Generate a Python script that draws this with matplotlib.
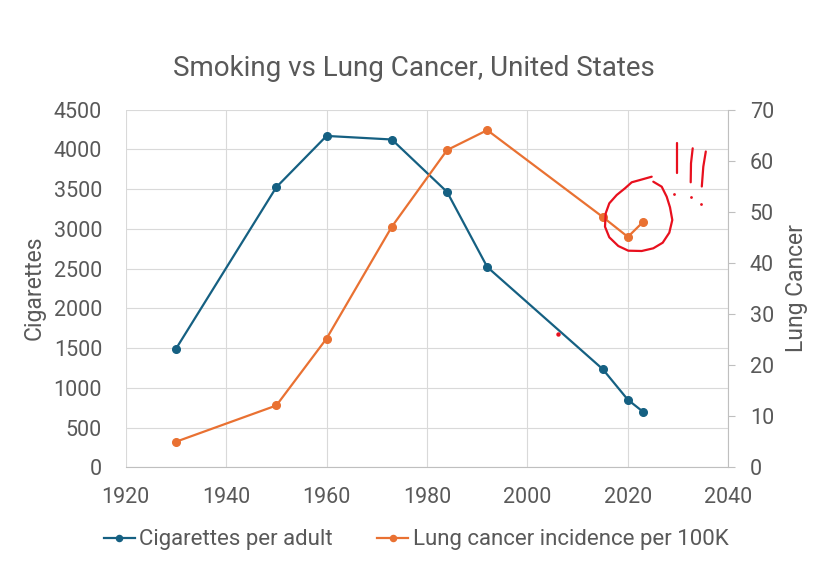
import matplotlib
matplotlib.use('Agg')
import matplotlib.pyplot as plt
from matplotlib.lines import Line2D

plt.rcParams['font.family'] = ['Roboto', 'DejaVu Sans']

# data
years_cig = [1930, 1950, 1960, 1973, 1984, 1992, 2015, 2020, 2023]
cigarettes = [1490, 3525, 4170, 4125, 3465, 2520, 1235, 850, 700]
years_lung = [1930, 1950, 1960, 1973, 1984, 1992, 2015, 2020, 2023]
lung_cancer = [5.0, 12.1, 25.2, 47.1, 62.1, 66.0, 49.0, 45.1, 48.0]

x_ticks = [1920, 1940, 1960, 1980, 2000, 2020, 2040]
left_ticks = [0, 500, 1000, 1500, 2000, 2500, 3000, 3500, 4000, 4500]
right_ticks = [0, 10, 20, 30, 40, 50, 60, 70]

# hand drawn red marks (image pixels)
circle_px = [(651.7, 176.7), (640, 180), (631.7, 182.3), (625, 188.3), (616.7, 195),
             (609.3, 203.3), (605.7, 213.3), (605, 226.7), (609.3, 237.3), (618.3, 246),
             (628.3, 250.7), (641.7, 251), (653.3, 248.3), (662.7, 242.7), (669.3, 232.7),
             (672.3, 220), (670, 207.3), (666.7, 196.7), (661.7, 186.7), (653.3, 181.7)]
strokes_px = [[(676.7, 142.5), (676.7, 172.7)],
              [(692.7, 148.3), (691, 163.3), (690.7, 182.3)],
              [(705.8, 151.5), (703.3, 166.7), (701.8, 186.5)]]
dots_px = [(674.3, 194), (691, 196.7), (700.7, 203.7)]
dot_line_px = [(558, 334)]

W, H = 830, 577
blue = '#156082'
orange = '#E97132'
grid_c = '#D9D9D9'
axis_c = '#BFBFBF'
text_c = '#595959'
red = '#E8101E'

fig = plt.figure(figsize=(W / 100, H / 100), dpi=100)
ax = fig.add_axes([125.7 / W, 1 - 467.3 / H, (728.3 - 125.7) / W, (467.3 - 109.7) / H])
ax2 = ax.twinx()

ax.plot(years_cig, cigarettes, color=blue, lw=1.6, marker='o', ms=5.5,
        label='Cigarettes per adult', zorder=3)
ax2.plot(years_lung, lung_cancer, color=orange, lw=1.6, marker='o', ms=5.5,
         label='Lung cancer incidence per 100K', zorder=3)

ax.set_xlim(1920, 2040)
ax.set_ylim(0, 4500)
ax2.set_ylim(0, 70)
ax.set_xticks(x_ticks)
ax.set_yticks(left_ticks)
ax2.set_yticks(right_ticks)

ax.grid(True, color=grid_c, lw=0.8)
ax.set_axisbelow(True)
for s in ['top', 'left', 'right']:
    ax.spines[s].set_visible(False)
ax.spines['bottom'].set_color(axis_c)
for s in ['top', 'left', 'bottom']:
    ax2.spines[s].set_visible(False)
ax2.spines['right'].set_color(axis_c)

ax.tick_params(axis='x', length=0, pad=14, labelsize=15.5, labelcolor=text_c)
ax.tick_params(axis='y', length=0, pad=17, labelsize=15.5, labelcolor=text_c)
ax2.tick_params(axis='y', length=5, width=0.8, color=axis_c, pad=10.5,
                labelsize=15.5, labelcolor=text_c)

fig.text(414 / W, 1 - 68 / H, 'Smoking vs Lung Cancer, United States',
         ha='center', va='center', fontsize=20, color=text_c)
fig.text(34 / W, 1 - 288 / H, 'Cigarettes', rotation=90, ha='center', va='center',
         fontsize=16.5, color=text_c)
fig.text(796 / W, 1 - 288 / H, 'Lung Cancer', rotation=90, ha='center', va='center',
         fontsize=16.5, color=text_c)

h1, l1 = ax.get_legend_handles_labels()
h2, l2 = ax2.get_legend_handles_labels()
fig.legend(h1 + h2, l1 + l2, loc='center', bbox_to_anchor=(416 / W, 1 - 540 / H),
           ncol=2, frameon=False, fontsize=16, labelcolor=text_c,
           handlelength=1.4, handletextpad=0.2, columnspacing=2.0, markerscale=0.8)


def px(points):
    return [p[0] / W for p in points], [1 - p[1] / H for p in points]


cx, cy = px(circle_px)
fig.add_artist(Line2D(cx, cy, transform=fig.transFigure, color=red, lw=1.6,
                      solid_capstyle='round', solid_joinstyle='round'))
for st in strokes_px:
    sx, sy = px(st)
    fig.add_artist(Line2D(sx, sy, transform=fig.transFigure, color=red, lw=1.6,
                          solid_capstyle='round'))
dx, dy = px(dots_px)
fig.add_artist(Line2D(dx, dy, transform=fig.transFigure, color=red, lw=0,
                      marker='o', ms=2.0, markeredgewidth=0))
dx, dy = px(dot_line_px)
fig.add_artist(Line2D(dx, dy, transform=fig.transFigure, color=red, lw=0,
                      marker='o', ms=3.2, markeredgewidth=0))

fig.savefig('out.png', dpi=100)
